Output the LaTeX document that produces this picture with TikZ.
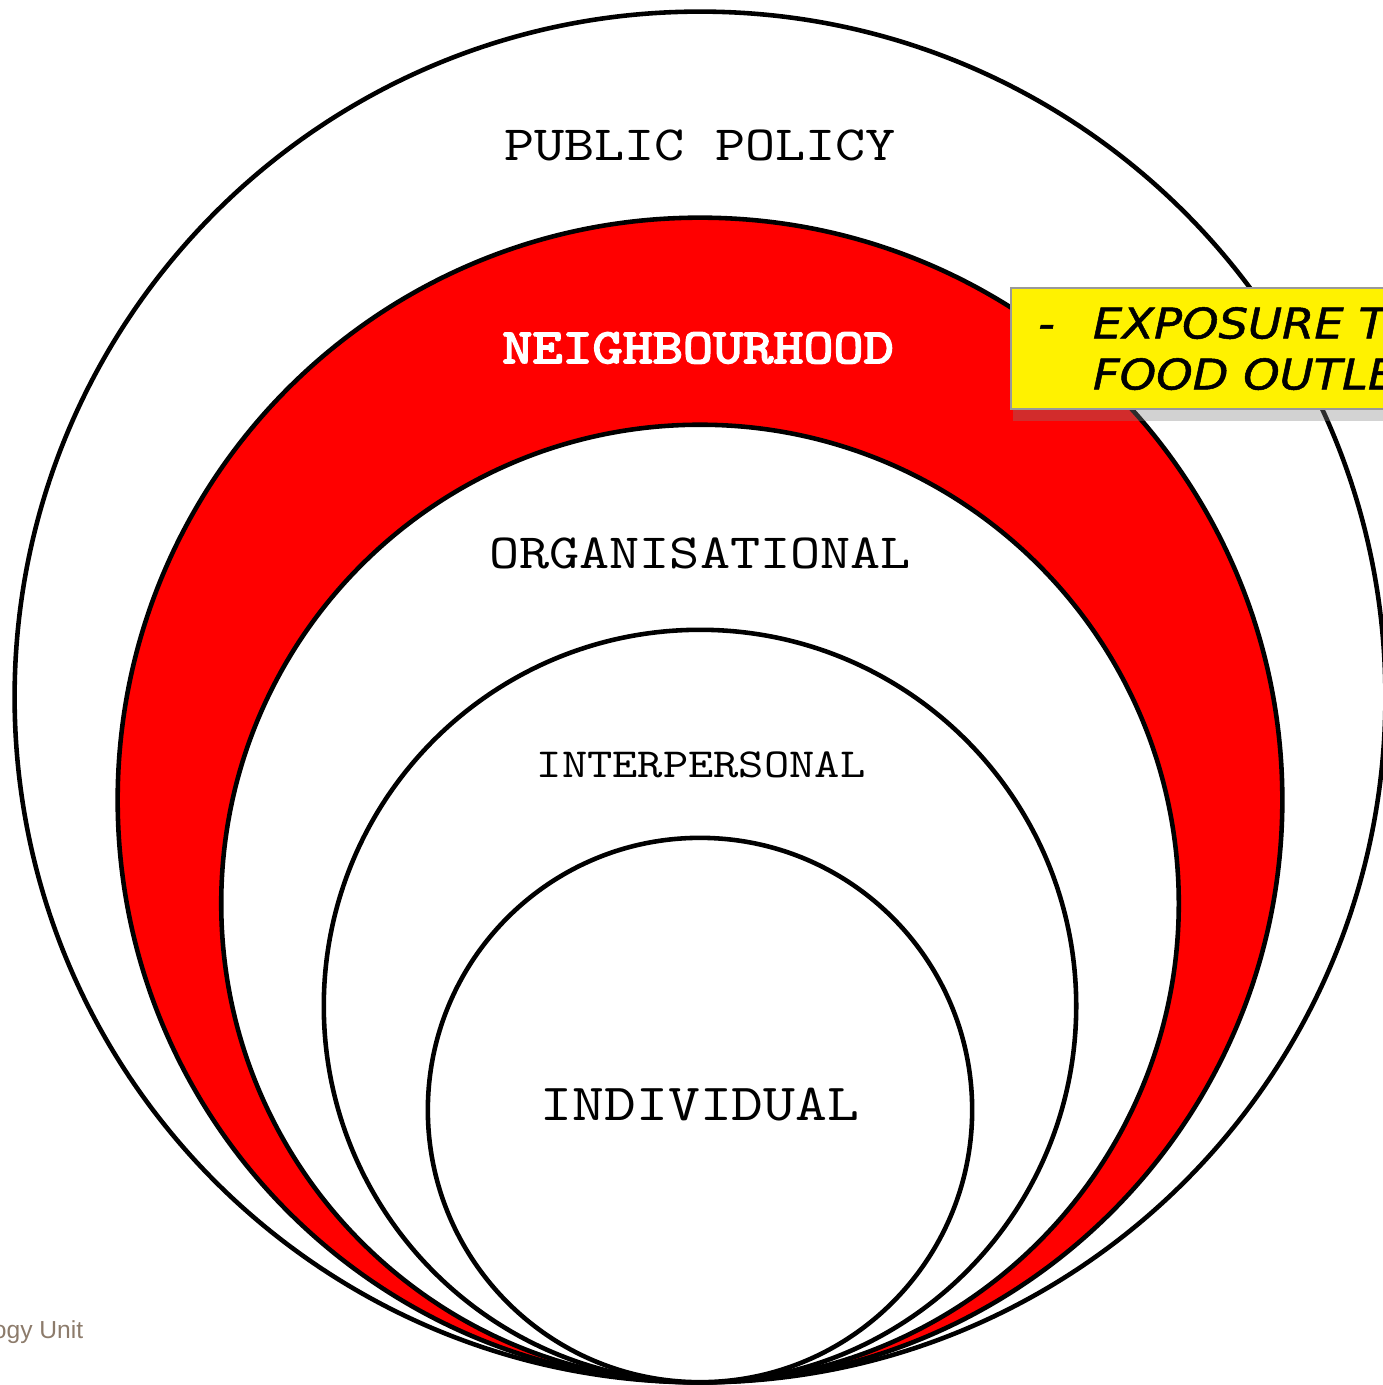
\documentclass[tikz,border=0pt]{standalone}
\usepackage{fontspec}
\usetikzlibrary{shadows}
\setsansfont{Liberation Sans}
% slab mono for the layer names, stretched to a Courier-like width
\newfontfamily\layerfont{lmmono10-regular.otf}[FakeStretch=1.165]
\newfontfamily\layerboldfont{lmmono10-regular.otf}[FakeStretch=1.165,FakeBold=3.5]
\newfontfamily\notefont{DejaVu Sans}[FakeStretch=1.1,FakeBold=1.2]
\definecolor{unitgray}{HTML}{8C7B6B}
\begin{document}
\begin{tikzpicture}[x=0.01cm, y=-0.01cm,
  ring/.style={circle, draw, line width=1.3pt, inner sep=0pt},
  layer/.style={font=\layerfont\fontsize{14}{16}\selectfont, anchor=base, inner sep=0pt}]
\useasboundingbox (0,0) rectangle (1383,1385);
% nested levels, all touching at the bottom
\node[ring, fill=white, minimum size=13.70cm] (public) at (700,697) {};
\node[ring, fill=red, minimum size=11.64cm] (neigh) at (700,800) {};
\node[ring, fill=white, minimum size=9.57cm] (org) at (700,903.5) {};
\node[ring, fill=white, minimum size=7.52cm] (inter) at (700,1006) {};
\node[ring, fill=white, minimum size=5.44cm] (indiv) at (700,1110) {};
% level names
\node[layer] (publbl) at (700,160) {PUBLIC POLICY};
\node[layer, font=\layerboldfont\fontsize{14}{16}\selectfont, text=white] (neighlbl) at (698,363) {NEIGHBOURHOOD};
\node[layer] (orglbl) at (700,568) {ORGANISATIONAL};
\node[layer, font=\layerfont\fontsize{11.75}{13}\selectfont] (interlbl) at (701,777) {INTERPERSONAL};
\node[layer, font=\layerfont\fontsize{14.8}{17}\selectfont] (indivlbl) at (700,1120) {INDIVIDUAL};
% note on the neighbourhood level
\node[draw=gray!80, fill=yellow, line width=0.6pt, anchor=north west,
  minimum height=1.21cm, inner xsep=7.7pt, align=left,
  font=\notefont\itshape\fontsize{12}{14.5}\selectfont,
  drop shadow={shadow xshift=0.5pt, shadow yshift=-3.5pt, opacity=.35}] (note) at (1010,287)
  {\makebox[15.6pt][l]{-}EXPOSURE TO\\\hspace*{15.6pt}FOOD OUTLETS};
\node[font=\sffamily\fontsize{7}{8}\selectfont, text=unitgray, anchor=base east, inner sep=0pt] (unit) at (84,1338) {Epidemiology Unit};
\end{tikzpicture}
\end{document}
